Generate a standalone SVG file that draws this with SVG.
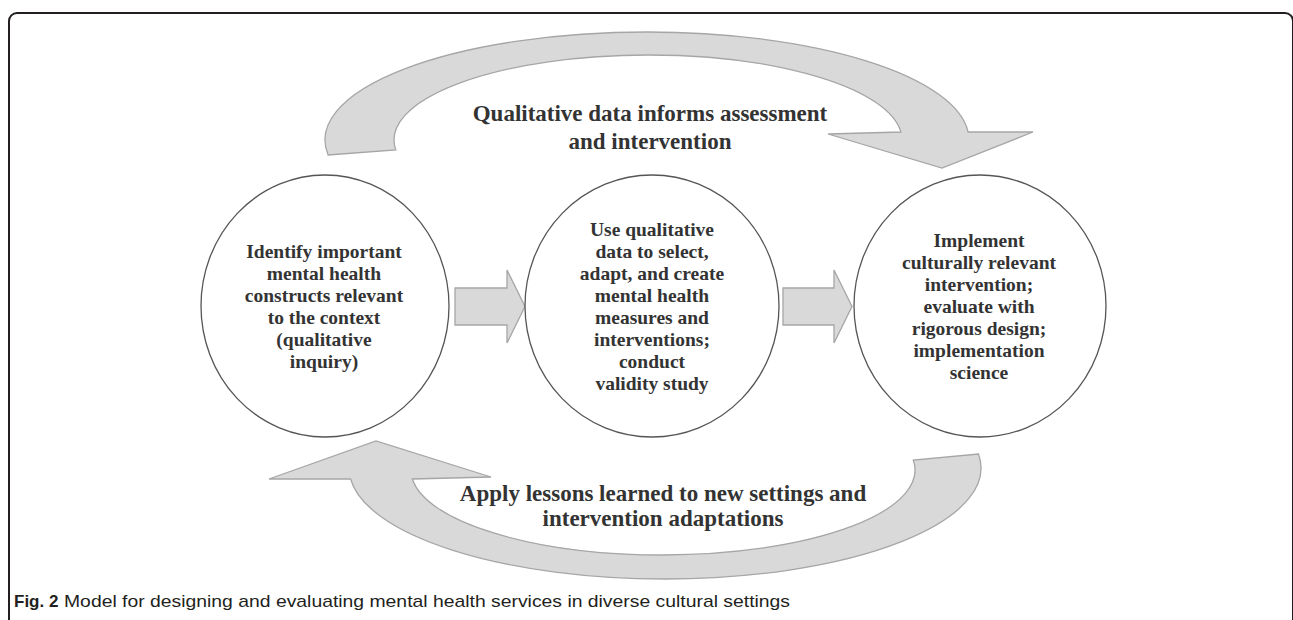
<svg xmlns="http://www.w3.org/2000/svg" width="1293" height="620" viewBox="0 0 1293 620">
<style>
.frame{fill:none;stroke:#231f20;stroke-width:2}
.node{fill:#fff;stroke:#555;stroke-width:1.3}
.arrow{fill:#d9d9d9;stroke:#a6a6a6;stroke-width:1.3;stroke-linejoin:miter}
.t{font-family:"Liberation Serif",serif;font-weight:bold;font-size:19.5px;fill:#333;text-anchor:middle}
.lbl{font-family:"Liberation Serif",serif;font-weight:bold;font-size:23px;fill:#333;text-anchor:middle}
.cap{font-family:"Liberation Sans",sans-serif;font-size:17px;fill:#231f20}
</style>
<rect width="1293" height="620" fill="#fff"/>
<path class="frame" d="M9,620 V21 A8,8 0 0 1 17,13 H1285 A8,8 0 0 1 1293,21 V620"/>
<g id="connectors">
<path id="loop-top" class="arrow" d="M328.1,155 A322,108 0 0 1 647,32 A322,108 0 0 1 968.1,132 L1033,132 L942,168 L828,134 L900.9,132 A254,85 0 0 0 648,55 A254,85 0 0 0 395.8,150 Z"/>
<path id="loop-bottom" class="arrow" d="M269,479 L376,441 L491,477 L412.4,479 A252,85 0 0 0 663,555 A252,85 0 0 0 913.3,460 L978.5,454 A316,111 0 0 1 665,579 A316,111 0 0 1 350.6,479 Z"/>
<path id="a1" class="arrow" d="M455,288 H507 V270 L525,306.5 L507,343 V325 H455 Z"/>
<path id="a2" class="arrow" d="M783,288 H834 V270 L852,306.5 L834,343 V325 H783 Z"/>
<text class="lbl" x="650" y="121">Qualitative data informs assessment</text>
<text class="lbl" x="650" y="149">and intervention</text>
<text class="lbl" x="663" y="501">Apply lessons learned to new settings and</text>
<text class="lbl" x="663" y="526">intervention adaptations</text>
</g>
<g id="node-identify">
<ellipse class="node" cx="325" cy="306" rx="124" ry="131"/>
<text class="t" x="324" y="258">Identify important</text>
<text class="t" x="324" y="280">mental health</text>
<text class="t" x="324" y="302">constructs relevant</text>
<text class="t" x="324" y="324">to the context</text>
<text class="t" x="324" y="346">(qualitative</text>
<text class="t" x="324" y="368">inquiry)</text>
</g>
<g id="node-use">
<ellipse class="node" cx="652" cy="306" rx="127" ry="131"/>
<text class="t" x="652" y="236">Use qualitative</text>
<text class="t" x="652" y="258">data to select,</text>
<text class="t" x="652" y="280">adapt, and create</text>
<text class="t" x="652" y="302">mental health</text>
<text class="t" x="652" y="324">measures and</text>
<text class="t" x="652" y="346">interventions;</text>
<text class="t" x="652" y="368">conduct</text>
<text class="t" x="652" y="390">validity study</text>
</g>
<g id="node-implement">
<ellipse class="node" cx="980" cy="306" rx="126" ry="131"/>
<text class="t" x="979" y="247">Implement</text>
<text class="t" x="979" y="269">culturally relevant</text>
<text class="t" x="979" y="291">intervention;</text>
<text class="t" x="979" y="313">evaluate with</text>
<text class="t" x="979" y="335">rigorous design;</text>
<text class="t" x="979" y="357">implementation</text>
<text class="t" x="979" y="379">science</text>
</g>
<text class="cap" x="14" y="607" font-weight="bold">Fig. 2</text>
<text class="cap" x="64" y="607" textLength="726" lengthAdjust="spacingAndGlyphs">Model for designing and evaluating mental health services in diverse cultural settings</text>
</svg>
